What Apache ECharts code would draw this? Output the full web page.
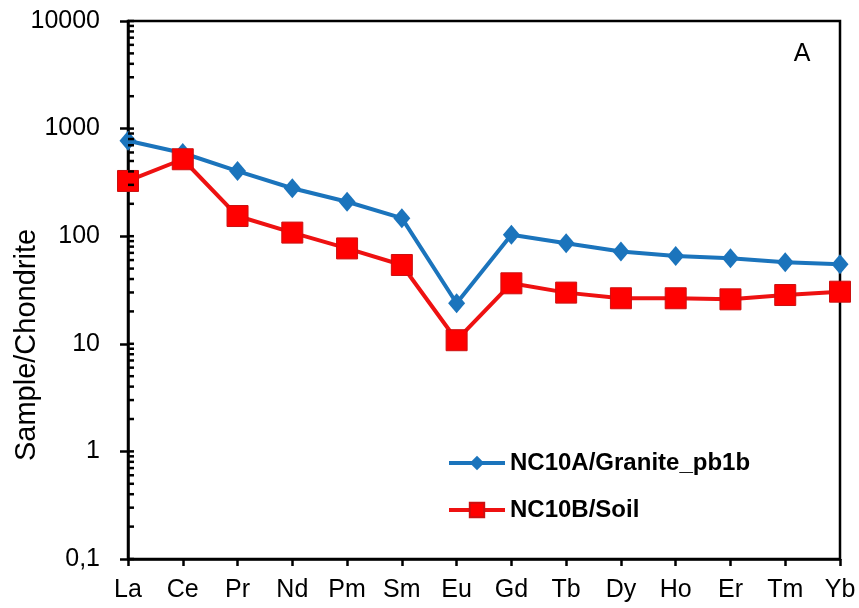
<!DOCTYPE html>
<html>
<head>
<meta charset="utf-8">
<script src="https://cdn.jsdelivr.net/npm/echarts@6/dist/echarts.min.js"></script>
<style>html,body{margin:0;padding:0;background:#fff}#c{width:859px;height:608px}</style>
</head>
<body>
<div id="c"></div>
<script>
var categories = ['La','Ce','Pr','Nd','Pm','Sm','Eu','Gd','Tb','Dy','Ho','Er','Tm','Yb'];
var granite = [772, 593, 403, 279, 209, 147, 23.8, 103, 86, 72, 65.5, 62.4, 57.2, 54.8];
var soil = [326, 519, 154, 108, 77, 54, 10.8, 36.5, 29.9, 26.5, 26.5, 25.9, 28.4, 30.5];
var seriesNames = ['NC10A/Granite_pb1b', 'NC10B/Soil'];
var yTickLabels = {'0.1':'0,1','1':'1','10':'10','100':'100','1000':'1000','10000':'10000'};
var decades = [0.1, 1, 10, 100, 1000];
var multipliers = [1, 2, 3, 4, 5, 6, 7, 8, 9];

var innerTicks = [];
decades.forEach(function (d) { multipliers.forEach(function (m) { innerTicks.push([0, d * m]); }); });
innerTicks.push([0, 10000]);

var font = 'Arial, "Liberation Sans", Helvetica, sans-serif';
var chart = echarts.init(document.getElementById('c'), null, {renderer: 'canvas'});
chart.setOption({
  animation: false,
  backgroundColor: '#fff',
  textStyle: {fontFamily: font},
  grid: {left: 128, right: 19, top: 21, bottom: 49, show: true, borderColor: '#000', borderWidth: 2.5, backgroundColor: 'transparent'},
  legend: {
    orient: 'vertical', left: 442, top: 446, itemWidth: 56, itemHeight: 18, itemGap: 23,
    data: seriesNames,
    lineStyle: {width: 4},
    textStyle: {fontSize: 24, fontWeight: 'bold', color: '#000', fontFamily: font, lineHeight: 24, padding: [0,0,0,0]}
  },
  xAxis: {
    type: 'category', data: categories, boundaryGap: false,
    axisLine: {lineStyle: {color: '#000', width: 2.5}},
    axisTick: {show: true, length: 7, inside: false, lineStyle: {color: '#000', width: 2.5}},
    axisLabel: {color: '#000', fontSize: 25, margin: 19, fontFamily: font, interval: 0},
    splitLine: {show: false}
  },
  yAxis: {
    type: 'log', logBase: 10, min: 0.1, max: 10000,
    axisLine: {show: true, lineStyle: {color: '#000', width: 2.5}},
    axisTick: {show: true, length: 8, inside: false, lineStyle: {color: '#000', width: 2.5}},
    axisLabel: {color: '#000', fontSize: 25, margin: 28, fontFamily: font,
      formatter: function (v) { var k = String(+v.toPrecision(6)); return yTickLabels[k] !== undefined ? yTickLabels[k] : k; }},
    splitLine: {show: false}
  },
  graphic: [
    {type: 'text', x: 27, y: 345, rotation: Math.PI / 2, style: {text: 'Sample/Chondrite', fontSize: 29, fill: '#000', fontFamily: font, align: 'center', verticalAlign: 'middle'}},
    {type: 'text', x: 802, y: 54, style: {text: 'A', fontSize: 25, fill: '#000', fontFamily: font, align: 'center', verticalAlign: 'middle'}}
  ],
  series: [
    {
      name: seriesNames[0], type: 'line', data: granite,
      symbol: 'diamond', symbolSize: [17, 20],
      lineStyle: {color: '#1b74bc', width: 4},
      itemStyle: {color: '#1b74bc'}, z: 3
    },
    {
      name: seriesNames[1], type: 'line', data: soil,
      symbol: 'rect', symbolSize: 21,
      lineStyle: {color: '#ee1111', width: 4},
      itemStyle: {color: '#ff0000', borderColor: '#cc1010', borderWidth: 1}, z: 4
    },
    {
      name: 'ticks', type: 'custom', data: innerTicks, silent: true, clip: false, z: 10,
      renderItem: function (params, api) {
        var p = api.coord([0, api.value(1)]);
        return {type: 'line', shape: {x1: p[0], y1: p[1], x2: p[0] + 6, y2: p[1]}, style: {stroke: '#000', lineWidth: 2.5}};
      }
    }
  ]
});
</script>
</body>
</html>
